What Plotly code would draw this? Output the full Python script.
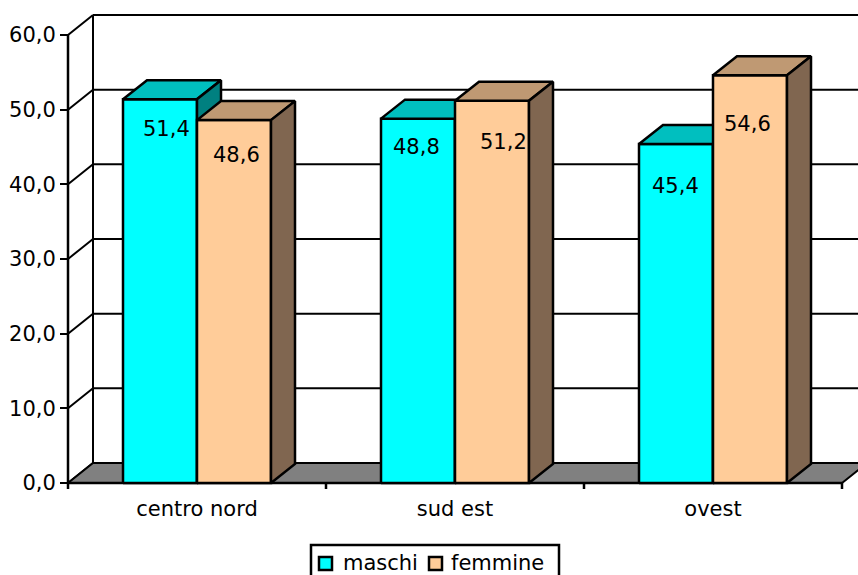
import plotly.graph_objects as go

# ---- data ----
categories = ["centro nord", "sud est", "ovest"]
series_names = ["maschi", "femmine"]
maschi = [51.4, 48.8, 45.4]
femmine = [48.6, 51.2, 54.6]
y_ticks = [0, 10, 20, 30, 40, 50, 60]

# ---- style ----
FRONT = ["#00FFFF", "#FFCC99"]
TOP = ["#00BFBF", "#BF9973"]
SIDE = ["#008080", "#806650"]
FLOOR = "#808080"
FONT = "DejaVu Sans"
FS = 21
# pixel nudges for the value labels (dx, dy) per series / category
label_nudge = [[(6, -30), (-2, -28), (-1, -42)],
               [(2, -35), (11, -41), (-3, -49)]]

# ---- geometry (pixels) ----
W, H = 858, 575
ML, MR, MT, MB = 60, 0, 12, 86
FRONT_LEFT_PX = 68          # x pixel of the front value axis
FLOOR_PX = 483              # y pixel of value 0 on the front plane
PX_X = 258.0                # pixels per category slot
PX_Y = 448.0 / 60.0         # pixels per value unit
plot_w = W - ML - MR
plot_h = H - MT - MB

x_min = -0.5 - (FRONT_LEFT_PX - ML) / PX_X
x_max = x_min + plot_w / PX_X
y_min = -((H - MB) - FLOOR_PX) / PX_Y
y_max = y_min + plot_h / PX_Y

WDX, WDY = 25 / PX_X, 20 / PX_Y      # wall depth
BDX, BDY = 24 / PX_X, 19 / PX_Y      # bar depth
BW = 74 / PX_X                       # bar width
TICK = 6 / PX_Y

n = len(categories)
xl, xr = -0.5, n - 0.5
vmax = y_ticks[-1]

fig = go.Figure()


def line_trace(xs, ys, width=2):
    return go.Scatter(x=xs, y=ys, mode="lines", hoverinfo="skip", showlegend=False,
                      line=dict(color="black", width=width))


def poly_trace(polys, color, width=2.5):
    xs, ys = [], []
    for p in polys:
        for (a, b) in p:
            xs.append(a)
            ys.append(b)
        xs.append(p[0][0]); ys.append(p[0][1])
        xs.append(None); ys.append(None)
    return go.Scatter(x=xs, y=ys, mode="lines", fill="toself", fillcolor=color,
                      hoverinfo="skip", showlegend=False,
                      line=dict(color="black", width=width))


# back wall gridlines
gx, gy = [], []
for v in y_ticks:
    gx += [xl + WDX, x_max + 1, None]
    gy += [v + WDY, v + WDY, None]
fig.add_trace(line_trace(gx, gy))

# side wall diagonals and back edge
dx_, dy_ = [], []
for v in y_ticks:
    dx_ += [xl, xl + WDX, None]
    dy_ += [v, v + WDY, None]
dx_ += [xl + WDX, xl + WDX, None]
dy_ += [WDY, vmax + WDY, None]
fig.add_trace(line_trace(dx_, dy_))

# floor
fig.add_trace(poly_trace([[(xl, 0), (xr, 0), (xr + WDX, WDY), (xl + WDX, WDY)]], FLOOR, 2))

# front axis, floor front edge and category ticks
ax, ay = [xl, xl, None, xl, xr, None], [0, vmax, None, 0, 0, None]
for k in range(n + 1):
    ax += [xl + k, xl + k, None]
    ay += [0, -TICK, None]
fig.add_trace(line_trace(ax, ay, width=2.5))

# bars
series = [maschi, femmine]
for s, vals in enumerate(series):
    fronts, tops, sides = [], [], []
    for i, v in enumerate(vals):
        a = i - BW + s * BW
        b = a + BW
        fronts.append([(a, 0), (b, 0), (b, v), (a, v)])
        tops.append([(a, v), (a + BDX, v + BDY), (b + BDX, v + BDY), (b, v)])
        sides.append([(b, 0), (b + BDX, BDY), (b + BDX, v + BDY), (b, v)])
    fig.add_trace(poly_trace(fronts, FRONT[s]))
    fig.add_trace(poly_trace(tops, TOP[s]))
    fig.add_trace(poly_trace(sides, SIDE[s]))

# value labels
for s, vals in enumerate(series):
    for i, v in enumerate(vals):
        cx = i - BW / 2 + s * BW
        nx, ny = label_nudge[s][i]
        fig.add_annotation(x=cx, y=v, text=f"{v:.1f}".replace(".", ","),
                           showarrow=False, xshift=nx, yshift=ny,
                           font=dict(family=FONT, size=FS, color="black"))


# legend box drawn in pixel positions converted to paper fractions
def px_x(p):
    return (p - ML) / plot_w


def px_y(p):
    return ((H - MB) - p) / plot_h


fig.add_shape(type="rect", xref="paper", yref="paper",
              x0=px_x(311), x1=px_x(559), y0=px_y(545), y1=px_y(600),
              line=dict(color="black", width=2.5), fillcolor="white", layer="above")
legend_marker_px = [318, 428]
legend_text_px = [341, 449]
for s, name in enumerate(series_names):
    m = legend_marker_px[s]
    fig.add_shape(type="rect", xref="paper", yref="paper",
                  x0=px_x(m + 1), x1=px_x(m + 14), y0=px_y(557), y1=px_y(570),
                  line=dict(color="black", width=2.5), fillcolor=FRONT[s], layer="above")
    fig.add_annotation(xref="paper", yref="paper", x=px_x(legend_text_px[s]), y=px_y(563),
                       xanchor="left", yanchor="middle", text=name, showarrow=False,
                       font=dict(family=FONT, size=FS, color="black"))

fig.update_layout(
    width=W, height=H,
    margin=dict(l=ML, r=MR, t=MT, b=MB, autoexpand=False),
    paper_bgcolor="white", plot_bgcolor="white",
    font=dict(family=FONT, size=FS, color="black"),
    showlegend=False,
    xaxis=dict(range=[x_min, x_max], tickvals=list(range(n)), ticktext=categories,
               ticks="", showgrid=False, zeroline=False, showline=False,
               fixedrange=True, ticklabelstandoff=5),
    yaxis=dict(range=[y_min, y_max], tickvals=y_ticks,
               ticktext=[f"{t:.1f}".replace(".", ",") for t in y_ticks],
               ticks="outside", ticklen=8, tickwidth=2, tickcolor="black",
               showgrid=False, zeroline=False, showline=False, fixedrange=True,
               anchor="free", position=(FRONT_LEFT_PX - ML) / plot_w),
)

fig.write_html("out.html")
